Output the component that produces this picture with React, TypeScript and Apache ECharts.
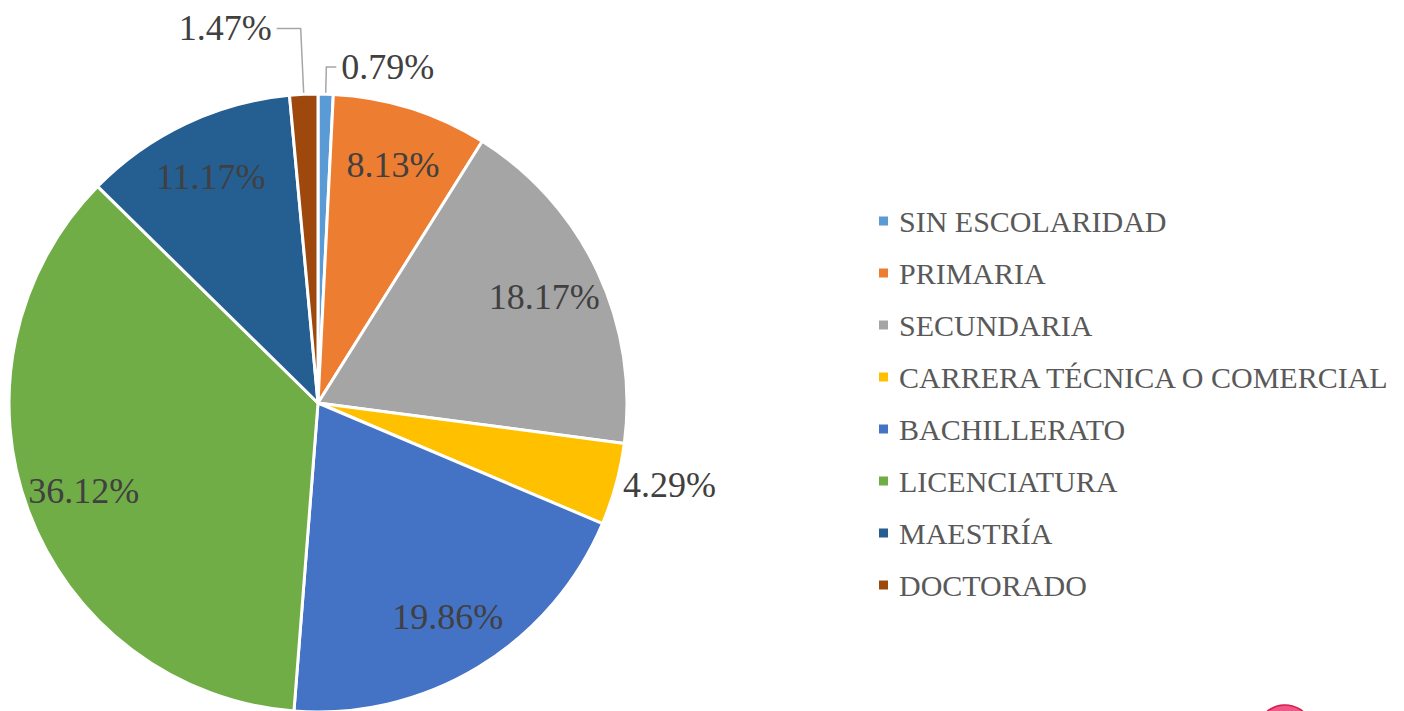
import React, { useEffect, useRef } from "react";
import * as echarts from "echarts";

const categories = [
  "SIN ESCOLARIDAD",
  "PRIMARIA",
  "SECUNDARIA",
  "CARRERA TÉCNICA O COMERCIAL",
  "BACHILLERATO",
  "LICENCIATURA",
  "MAESTRÍA",
  "DOCTORADO",
];
const values = [0.79, 8.13, 18.17, 4.29, 19.86, 36.12, 11.17, 1.47];
const colors = ["#5B9BD5", "#ED7D31", "#A5A5A5", "#FFC000", "#4472C4", "#70AD47", "#255E91", "#9E480E"];
// labels drawn outside the pie (small slices)
const outsideLabelLines: Record<string, { length: number; length2: number; show: boolean }> = {
  "SIN ESCOLARIDAD": { length: 27, length2: 10, show: true },
  "CARRERA TÉCNICA O COMERCIAL": { length: 2, length2: 0, show: false },
  DOCTORADO: { length: 66, length2: 24, show: true },
};

const FONT = "Liberation Serif";

export default function App() {
  const ref = useRef<HTMLDivElement>(null);
  useEffect(() => {
    if (!ref.current) return;
    const chart = echarts.init(ref.current, null, { renderer: "svg" });
    const fmt = (p: any) => Number(p.value).toFixed(2) + "%";
    const labelStyle = { color: "#404040", fontSize: 36, fontFamily: FONT };

    const outerData = categories.map((name, i) => {
      const o = outsideLabelLines[name];
      return {
        name,
        value: values[i],
        itemStyle: { color: colors[i] },
        label: o ? { show: true, position: "outside", ...labelStyle, formatter: fmt } : { show: false },
        labelLine: o
          ? { show: o.show, length: o.length, length2: o.length2, lineStyle: { color: "#A6A6A6", width: 1.5 }, smooth: false }
          : { show: false },
      };
    });

    const innerData = categories.map((name, i) => ({
      name,
      value: values[i],
      itemStyle: { color: "rgba(0,0,0,0)", borderWidth: 0 },
      label: outsideLabelLines[name] ? { show: false } : { show: true, position: "inside", ...labelStyle, formatter: fmt },
    }));

    chart.setOption({
      animation: false,
      backgroundColor: "#ffffff",
      legend: {
        orient: "vertical",
        left: 877,
        top: 206,
        padding: 0,
        itemWidth: 11,
        itemHeight: 11,
        itemGap: 22,
        icon: "rect",
        selectedMode: false,
        data: categories,
        textStyle: { color: "#595959", fontSize: 30, fontFamily: FONT, lineHeight: 30, padding: [0, 0, 0, 5] },
      },
      graphic: [
        {
          type: "circle",
          shape: { cx: 1285, cy: 733, r: 28 },
          style: { fill: "#F0588A", stroke: "#D81E4E", lineWidth: 1.5 },
          silent: true,
        },
      ],
      series: [
        {
          type: "pie",
          center: [318, 403],
          radius: [0, 309],
          startAngle: 90,
          clockwise: true,
          avoidLabelOverlap: false,
          silent: true,
          itemStyle: { borderColor: "#ffffff", borderWidth: 3 },
          data: outerData,
        },
        {
          type: "pie",
          center: [318, 403],
          radius: [185, 309],
          startAngle: 90,
          clockwise: true,
          avoidLabelOverlap: false,
          silent: true,
          labelLine: { show: false },
          data: innerData,
        },
      ],
    });
    return () => chart.dispose();
  }, []);
  return <div ref={ref} style={{ position: "fixed", left: 0, top: 0, width: 1404, height: 711 }} />;
}
